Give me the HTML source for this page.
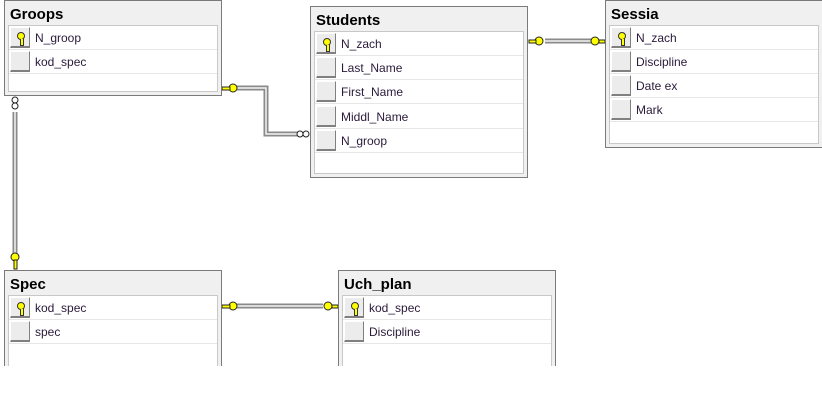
<!DOCTYPE html>
<html><head><meta charset="utf-8"><style>
body{margin:0;width:822px;height:418px;background:#fff;position:relative;overflow:hidden;font-family:"Liberation Sans",sans-serif}
.t{position:absolute;background:#f0f0f0;border:1px solid #7a7a7a;box-sizing:border-box}
.t h{position:absolute;left:5px;top:6px;font-weight:bold;font-size:15px;color:#000;line-height:15px}
.p{position:absolute;left:3px;right:3px;top:24px;bottom:3px;background:#fff;border:1px solid #c8c8c8;box-sizing:border-box}
.r{position:absolute;left:0;right:0;height:24px;border-bottom:1px solid #e6e6e6;box-sizing:border-box}
.b{position:absolute;left:1px;top:1px;width:20px;height:21px;background:#ececec;border:1px solid #fff;border-right-color:#808080;border-bottom:2px solid #808080;box-sizing:border-box}
.r s{position:absolute;left:26px;top:5px;font-size:12px;color:#2a1a3a;text-decoration:none}
.k{position:absolute;left:6px;top:4px;width:6px;height:6px;border-radius:50%;background:#ff0;border:1px solid #333}
.k:after{content:"";position:absolute;left:2px;top:6px;width:2px;height:6px;background:#ff0;border:1px solid #333;border-top:none}
</style></head><body>
<svg width="822" height="418" style="position:absolute;left:0;top:0">
<g fill="none" stroke="#8a8a8a" stroke-width="5">
<polyline points="236,88 266,88 266,134 300,134"/>
<line x1="545" y1="41" x2="593" y2="41"/>
<line x1="15" y1="112" x2="15" y2="255"/>
<line x1="236" y1="306" x2="323" y2="306"/>
</g>
<g fill="none" stroke="#f4f4f4" stroke-width="1.5">
<polyline points="236,88 266,88 266,134 300,134"/>
<line x1="545" y1="41" x2="593" y2="41"/>
<line x1="15" y1="112" x2="15" y2="255"/>
<line x1="236" y1="306" x2="323" y2="306"/>
</g>
<g fill="#ffff00" stroke="#222" stroke-width="1">
<circle cx="233" cy="88" r="4"/><rect x="222" y="87" width="8" height="3"/>
<circle cx="539" cy="41" r="4"/><rect x="529" y="40" width="7" height="3"/>
<circle cx="595" cy="41" r="4"/><rect x="599" y="40" width="6" height="3"/>
<circle cx="15" cy="257" r="4"/><rect x="14" y="260" width="3" height="9"/>
<circle cx="233" cy="306" r="4"/><rect x="222" y="305" width="8" height="3"/>
<circle cx="328" cy="306" r="4"/><rect x="332" y="305" width="6" height="3"/>
</g>
<g fill="#fff" stroke="#222" stroke-width="1">
<circle cx="300" cy="134" r="3"/><circle cx="306" cy="134" r="3"/>
<circle cx="15" cy="100" r="3"/><circle cx="15" cy="106" r="3"/>
</g>
</svg>

<div class="t" style="left:4px;top:0;width:218px;height:96px"><h>Groops</h><div class="p">
<div class="r" style="top:0"><i class="b"><i class="k"></i></i><s>N_groop</s></div>
<div class="r" style="top:24px"><i class="b"></i><s>kod_spec</s></div>
</div></div>

<div class="t" style="left:310px;top:6px;width:218px;height:172px"><h>Students</h><div class="p">
<div class="r" style="top:0"><i class="b"><i class="k"></i></i><s>N_zach</s></div>
<div class="r" style="top:24px"><i class="b"></i><s>Last_Name</s></div>
<div class="r" style="top:48px"><i class="b"></i><s>First_Name</s></div>
<div class="r" style="top:73px"><i class="b"></i><s>Middl_Name</s></div>
<div class="r" style="top:97px"><i class="b"></i><s>N_groop</s></div>
</div></div>

<div class="t" style="left:605px;top:0;width:218px;height:148px"><h>Sessia</h><div class="p">
<div class="r" style="top:0"><i class="b"><i class="k"></i></i><s>N_zach</s></div>
<div class="r" style="top:24px"><i class="b"></i><s>Discipline</s></div>
<div class="r" style="top:48px"><i class="b"></i><s>Date ex</s></div>
<div class="r" style="top:72px"><i class="b"></i><s>Mark</s></div>
</div></div>

<div class="t" style="left:4px;top:270px;width:218px;height:100px;border-bottom:none"><h>Spec</h><div class="p" style="bottom:0">
<div class="r" style="top:0"><i class="b"><i class="k"></i></i><s>kod_spec</s></div>
<div class="r" style="top:24px"><i class="b"></i><s>spec</s></div>
</div></div>

<div class="t" style="left:338px;top:270px;width:218px;height:100px;border-bottom:none"><h>Uch_plan</h><div class="p" style="bottom:0">
<div class="r" style="top:0"><i class="b"><i class="k"></i></i><s>kod_spec</s></div>
<div class="r" style="top:24px"><i class="b"></i><s>Discipline</s></div>
</div></div>
<div style="position:absolute;left:0;top:366px;width:822px;height:52px;background:#fff"></div>
</body></html>
